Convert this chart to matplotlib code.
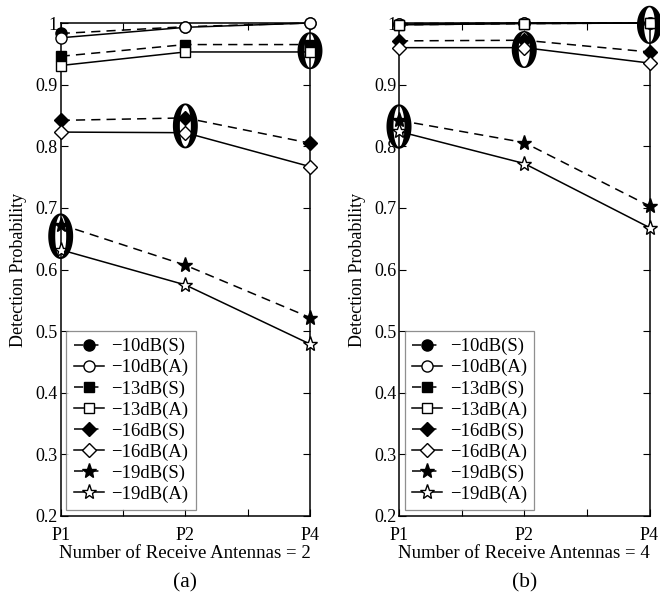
import numpy as np
import matplotlib.pyplot as plt
from matplotlib.path import Path
from matplotlib.patches import PathPatch

plt.rcParams['font.family'] = ['Liberation Serif', 'DejaVu Serif']

positions = ['P1', 'P2', 'P4']
labels = ['\u221210dB(S)', '\u221210dB(A)', '\u221213dB(S)', '\u221213dB(A)',
          '\u221216dB(S)', '\u221216dB(A)', '\u221219dB(S)', '\u221219dB(A)']

# receive antennas = 2
ant2 = [
    [0.983, 0.994, 1.000],
    [0.976, 0.993, 1.000],
    [0.946, 0.965, 0.965],
    [0.931, 0.953, 0.953],
    [0.842, 0.846, 0.805],
    [0.823, 0.822, 0.767],
    [0.673, 0.607, 0.522],
    [0.632, 0.575, 0.479],
]
# receive antennas = 4
ant4 = [
    [0.999, 1.000, 1.000],
    [0.998, 1.000, 1.000],
    [0.997, 0.999, 1.000],
    [0.997, 0.999, 1.000],
    [0.971, 0.972, 0.953],
    [0.960, 0.960, 0.935],
    [0.842, 0.806, 0.703],
    [0.824, 0.772, 0.668],
]
# highlighted groups: (x index, centre value, height)
marks2 = [(2, 0.955, 0.060), (1, 0.833, 0.073), (0, 0.654, 0.074)]
marks4 = [(2, 0.997, 0.062), (1, 0.957, 0.060), (0, 0.832, 0.072)]

markers = ['o', 'o', 's', 's', 'D', 'D', '*', '*']
filled = [True, False] * 4
msizes = [8, 8, 7, 7, 7, 7, 11, 11]


def ring(xc, yc, w, h):
    # bold "0"-like ring: thick sides, thin top and bottom
    t = np.linspace(0, 2*np.pi, 90)
    outer = np.column_stack([xc + w/2*np.cos(t), yc + h/2*np.sin(t)])
    inner = np.column_stack([xc + w*0.22*np.cos(t[::-1]), yc + h*0.46*np.sin(t[::-1])])
    verts = np.vstack([outer, inner])
    codes = [Path.MOVETO] + [Path.LINETO]*(len(t)-2) + [Path.CLOSEPOLY]
    codes = codes + codes
    return PathPatch(Path(verts, codes), facecolor='black', edgecolor='none',
                     clip_on=False, zorder=4)


fig = plt.figure(figsize=(6.6, 5.96), dpi=100)
ax1 = fig.add_axes([60.7/660, 1-516/596, 249.3/660, 493/596])
ax2 = fig.add_axes([399/660, 1-516/596, 250.5/660, 493/596])

x = np.arange(len(positions))
for ax, data, marks, n, tag in [(ax1, ant2, marks2, 2, '(a)'), (ax2, ant4, marks4, 4, '(b)')]:
    for i, vals in enumerate(data):
        ls = '--' if i % 2 == 0 else '-'
        ax.plot(x, vals, ls, color='black', lw=1.1, marker=markers[i],
                markersize=msizes[i], markerfacecolor='black' if filled[i] else 'white',
                markeredgecolor='black', markeredgewidth=1.0, label=labels[i],
                clip_on=False, zorder=3, dashes=(6, 4) if ls == '--' else (None, None))
    for xi, yc, hh in marks:
        ax.add_patch(ring(xi, yc, 0.2, hh))
    ax.set_xlim(0, 2)
    ax.set_ylim(0.2, 1.0)
    ax.set_xticks([0, 0.5, 1, 1.5, 2])
    ax.set_xticklabels(['P1', '', 'P2', '', 'P4'])
    ax.set_yticks(np.arange(0.2, 1.01, 0.1))
    ax.set_yticklabels(['0.2', '0.3', '0.4', '0.5', '0.6', '0.7', '0.8', '0.9', '1'])
    ax.tick_params(direction='in', top=True, right=True, labelsize=13, length=5)
    ax.tick_params(axis='x', pad=8)
    ax.tick_params(axis='y', pad=2)
    for s in ax.spines.values():
        s.set_linewidth(1.1)
    ax.set_ylabel('Detection Probability', fontsize=13, labelpad=6)
    ax.set_xlabel('Number of Receive Antennas = %d' % n, fontsize=13.5, labelpad=1)
    ax.text(0.5, -0.136, tag, transform=ax.transAxes, ha='center', va='center', fontsize=15.5)
    leg = ax.legend(loc='lower left', fontsize=13.5, handlelength=1.6, handletextpad=0.4,
                    labelspacing=0.2, borderaxespad=0.3, fancybox=False,
                    frameon=True, borderpad=0.4)
    leg.get_frame().set_edgecolor('0.45')
    leg.get_frame().set_linewidth(0.9)

fig.savefig('out.png', dpi=100)
